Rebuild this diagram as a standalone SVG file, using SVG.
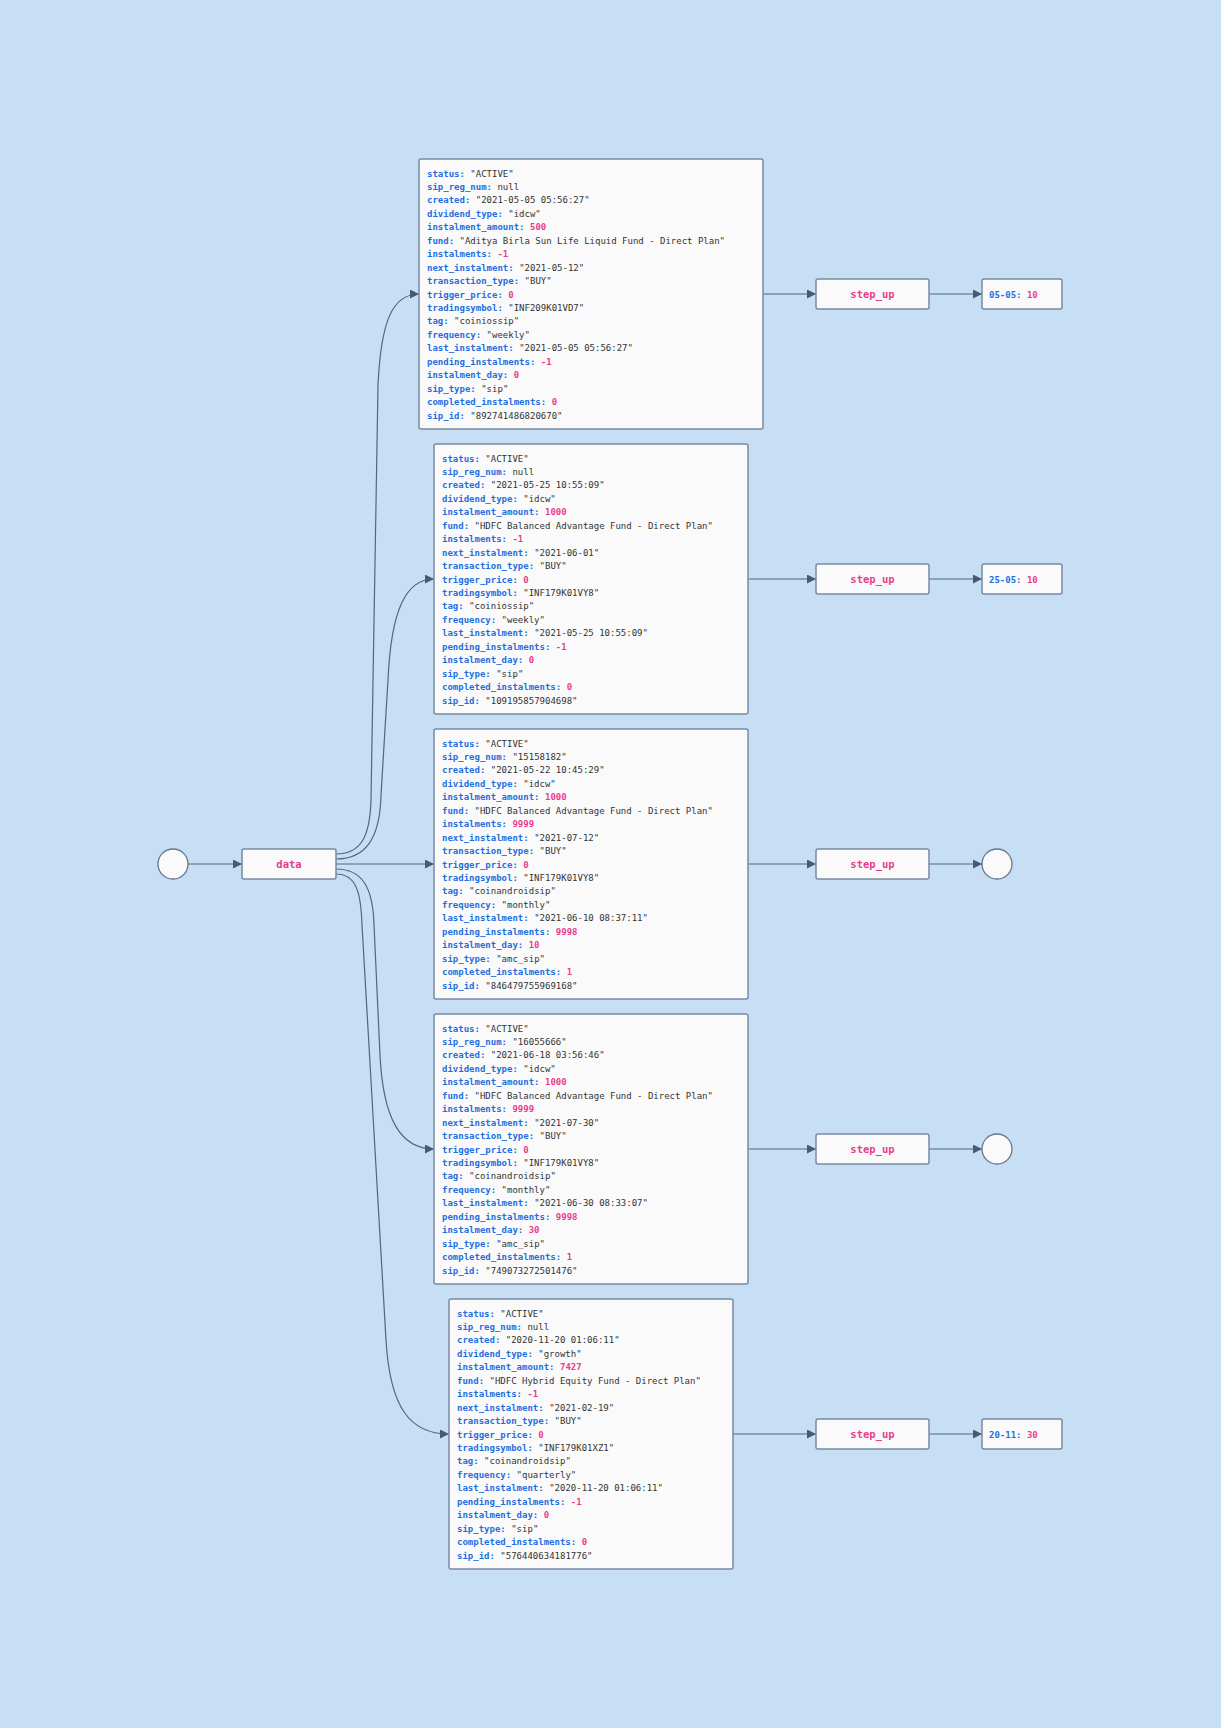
<svg xmlns="http://www.w3.org/2000/svg" width="1221" height="1728" viewBox="0 0 1221 1728">
<style>
.bg{fill:#c6dff4}
.nd{fill:#fafafa;stroke:#7b89a3;stroke-width:1.5}
.ci{fill:#fafafa;stroke:#66748f;stroke-width:1.3}
.e{fill:none;stroke:#55647f;stroke-width:1.2}
text{font-family:"DejaVu Sans Mono","Liberation Mono",monospace;font-size:9px;white-space:pre}
.k{fill:#1f6fe0;font-weight:bold}
.s{fill:#333333}
.n{fill:#ec3a8f;font-weight:bold}
.lbl{fill:#ec3a8f;font-size:10.5px;text-anchor:middle;font-weight:bold}
</style>
<defs>
<marker id="arr" viewBox="0 0 10 10" refX="10" refY="5" markerWidth="10" markerHeight="9" markerUnits="userSpaceOnUse" orient="auto">
<path d="M0,0 L10,5 L0,10 z" fill="#4a5874"/>
</marker>
</defs>
<rect class="bg" x="0" y="0" width="1221" height="1728"/>

<g id="connectors">
<path class="e" d="M188,864 L242,864" marker-end="url(#arr)"/>
<path class="e" d="M336,854 C360,854 370,838 371,800 L378,385 C381,322 392,294 419,294" marker-end="url(#arr)"/>
<path class="e" d="M336,859 C366,859 380,838 381,795 L388,680 C391,612 405,579 434,579" marker-end="url(#arr)"/>
<path class="e" d="M336,864 L434,864" marker-end="url(#arr)"/>
<path class="e" d="M336,869 C362,869 373,887 374,925 L380,1055 C383,1118 400,1149 434,1149" marker-end="url(#arr)"/>
<path class="e" d="M336,874 C356,874 361,892 362,925 L386,1340 C390,1408 410,1434 449,1434" marker-end="url(#arr)"/>
<path class="e" d="M763,294 L816,294" marker-end="url(#arr)"/>
<path class="e" d="M748,579 L816,579" marker-end="url(#arr)"/>
<path class="e" d="M748,864 L816,864" marker-end="url(#arr)"/>
<path class="e" d="M748,1149 L816,1149" marker-end="url(#arr)"/>
<path class="e" d="M733,1434 L816,1434" marker-end="url(#arr)"/>
<path class="e" d="M929,294 L982,294" marker-end="url(#arr)"/>
<path class="e" d="M929,579 L982,579" marker-end="url(#arr)"/>
<path class="e" d="M929,864 L982,864" marker-end="url(#arr)"/>
<path class="e" d="M929,1149 L982,1149" marker-end="url(#arr)"/>
<path class="e" d="M929,1434 L982,1434" marker-end="url(#arr)"/>
</g>

<g id="start"><circle class="ci" cx="173" cy="864" r="15"/></g>
<g id="data"><rect class="nd" x="242" y="849" width="94" height="30" rx="2"/><text class="lbl" x="289" y="868">data</text></g>

<g id="sip1" transform="translate(419,159)">
<rect class="nd" x="0" y="0" width="344" height="270" rx="2"/>
<text x="8" y="17.5"><tspan class="k">status:</tspan> <tspan class="s">"ACTIVE"</tspan></text>
<text x="8" y="30.95"><tspan class="k">sip_reg_num:</tspan> <tspan class="s">null</tspan></text>
<text x="8" y="44.4"><tspan class="k">created:</tspan> <tspan class="s">"2021-05-05 05:56:27"</tspan></text>
<text x="8" y="57.85"><tspan class="k">dividend_type:</tspan> <tspan class="s">"idcw"</tspan></text>
<text x="8" y="71.3"><tspan class="k">instalment_amount:</tspan> <tspan class="n">500</tspan></text>
<text x="8" y="84.75"><tspan class="k">fund:</tspan> <tspan class="s">"Aditya Birla Sun Life Liquid Fund - Direct Plan"</tspan></text>
<text x="8" y="98.2"><tspan class="k">instalments:</tspan> <tspan class="n">-1</tspan></text>
<text x="8" y="111.65"><tspan class="k">next_instalment:</tspan> <tspan class="s">"2021-05-12"</tspan></text>
<text x="8" y="125.1"><tspan class="k">transaction_type:</tspan> <tspan class="s">"BUY"</tspan></text>
<text x="8" y="138.55"><tspan class="k">trigger_price:</tspan> <tspan class="n">0</tspan></text>
<text x="8" y="152"><tspan class="k">tradingsymbol:</tspan> <tspan class="s">"INF209K01VD7"</tspan></text>
<text x="8" y="165.45"><tspan class="k">tag:</tspan> <tspan class="s">"coiniossip"</tspan></text>
<text x="8" y="178.9"><tspan class="k">frequency:</tspan> <tspan class="s">"weekly"</tspan></text>
<text x="8" y="192.35"><tspan class="k">last_instalment:</tspan> <tspan class="s">"2021-05-05 05:56:27"</tspan></text>
<text x="8" y="205.8"><tspan class="k">pending_instalments:</tspan> <tspan class="n">-1</tspan></text>
<text x="8" y="219.25"><tspan class="k">instalment_day:</tspan> <tspan class="n">0</tspan></text>
<text x="8" y="232.7"><tspan class="k">sip_type:</tspan> <tspan class="s">"sip"</tspan></text>
<text x="8" y="246.15"><tspan class="k">completed_instalments:</tspan> <tspan class="n">0</tspan></text>
<text x="8" y="259.6"><tspan class="k">sip_id:</tspan> <tspan class="s">"892741486820670"</tspan></text>
</g>

<g id="sip2" transform="translate(434,444)">
<rect class="nd" x="0" y="0" width="314" height="270" rx="2"/>
<text x="8" y="17.5"><tspan class="k">status:</tspan> <tspan class="s">"ACTIVE"</tspan></text>
<text x="8" y="30.95"><tspan class="k">sip_reg_num:</tspan> <tspan class="s">null</tspan></text>
<text x="8" y="44.4"><tspan class="k">created:</tspan> <tspan class="s">"2021-05-25 10:55:09"</tspan></text>
<text x="8" y="57.85"><tspan class="k">dividend_type:</tspan> <tspan class="s">"idcw"</tspan></text>
<text x="8" y="71.3"><tspan class="k">instalment_amount:</tspan> <tspan class="n">1000</tspan></text>
<text x="8" y="84.75"><tspan class="k">fund:</tspan> <tspan class="s">"HDFC Balanced Advantage Fund - Direct Plan"</tspan></text>
<text x="8" y="98.2"><tspan class="k">instalments:</tspan> <tspan class="n">-1</tspan></text>
<text x="8" y="111.65"><tspan class="k">next_instalment:</tspan> <tspan class="s">"2021-06-01"</tspan></text>
<text x="8" y="125.1"><tspan class="k">transaction_type:</tspan> <tspan class="s">"BUY"</tspan></text>
<text x="8" y="138.55"><tspan class="k">trigger_price:</tspan> <tspan class="n">0</tspan></text>
<text x="8" y="152"><tspan class="k">tradingsymbol:</tspan> <tspan class="s">"INF179K01VY8"</tspan></text>
<text x="8" y="165.45"><tspan class="k">tag:</tspan> <tspan class="s">"coiniossip"</tspan></text>
<text x="8" y="178.9"><tspan class="k">frequency:</tspan> <tspan class="s">"weekly"</tspan></text>
<text x="8" y="192.35"><tspan class="k">last_instalment:</tspan> <tspan class="s">"2021-05-25 10:55:09"</tspan></text>
<text x="8" y="205.8"><tspan class="k">pending_instalments:</tspan> <tspan class="n">-1</tspan></text>
<text x="8" y="219.25"><tspan class="k">instalment_day:</tspan> <tspan class="n">0</tspan></text>
<text x="8" y="232.7"><tspan class="k">sip_type:</tspan> <tspan class="s">"sip"</tspan></text>
<text x="8" y="246.15"><tspan class="k">completed_instalments:</tspan> <tspan class="n">0</tspan></text>
<text x="8" y="259.6"><tspan class="k">sip_id:</tspan> <tspan class="s">"109195857904698"</tspan></text>
</g>

<g id="sip3" transform="translate(434,729)">
<rect class="nd" x="0" y="0" width="314" height="270" rx="2"/>
<text x="8" y="17.5"><tspan class="k">status:</tspan> <tspan class="s">"ACTIVE"</tspan></text>
<text x="8" y="30.95"><tspan class="k">sip_reg_num:</tspan> <tspan class="s">"15158182"</tspan></text>
<text x="8" y="44.4"><tspan class="k">created:</tspan> <tspan class="s">"2021-05-22 10:45:29"</tspan></text>
<text x="8" y="57.85"><tspan class="k">dividend_type:</tspan> <tspan class="s">"idcw"</tspan></text>
<text x="8" y="71.3"><tspan class="k">instalment_amount:</tspan> <tspan class="n">1000</tspan></text>
<text x="8" y="84.75"><tspan class="k">fund:</tspan> <tspan class="s">"HDFC Balanced Advantage Fund - Direct Plan"</tspan></text>
<text x="8" y="98.2"><tspan class="k">instalments:</tspan> <tspan class="n">9999</tspan></text>
<text x="8" y="111.65"><tspan class="k">next_instalment:</tspan> <tspan class="s">"2021-07-12"</tspan></text>
<text x="8" y="125.1"><tspan class="k">transaction_type:</tspan> <tspan class="s">"BUY"</tspan></text>
<text x="8" y="138.55"><tspan class="k">trigger_price:</tspan> <tspan class="n">0</tspan></text>
<text x="8" y="152"><tspan class="k">tradingsymbol:</tspan> <tspan class="s">"INF179K01VY8"</tspan></text>
<text x="8" y="165.45"><tspan class="k">tag:</tspan> <tspan class="s">"coinandroidsip"</tspan></text>
<text x="8" y="178.9"><tspan class="k">frequency:</tspan> <tspan class="s">"monthly"</tspan></text>
<text x="8" y="192.35"><tspan class="k">last_instalment:</tspan> <tspan class="s">"2021-06-10 08:37:11"</tspan></text>
<text x="8" y="205.8"><tspan class="k">pending_instalments:</tspan> <tspan class="n">9998</tspan></text>
<text x="8" y="219.25"><tspan class="k">instalment_day:</tspan> <tspan class="n">10</tspan></text>
<text x="8" y="232.7"><tspan class="k">sip_type:</tspan> <tspan class="s">"amc_sip"</tspan></text>
<text x="8" y="246.15"><tspan class="k">completed_instalments:</tspan> <tspan class="n">1</tspan></text>
<text x="8" y="259.6"><tspan class="k">sip_id:</tspan> <tspan class="s">"846479755969168"</tspan></text>
</g>

<g id="sip4" transform="translate(434,1014)">
<rect class="nd" x="0" y="0" width="314" height="270" rx="2"/>
<text x="8" y="17.5"><tspan class="k">status:</tspan> <tspan class="s">"ACTIVE"</tspan></text>
<text x="8" y="30.95"><tspan class="k">sip_reg_num:</tspan> <tspan class="s">"16055666"</tspan></text>
<text x="8" y="44.4"><tspan class="k">created:</tspan> <tspan class="s">"2021-06-18 03:56:46"</tspan></text>
<text x="8" y="57.85"><tspan class="k">dividend_type:</tspan> <tspan class="s">"idcw"</tspan></text>
<text x="8" y="71.3"><tspan class="k">instalment_amount:</tspan> <tspan class="n">1000</tspan></text>
<text x="8" y="84.75"><tspan class="k">fund:</tspan> <tspan class="s">"HDFC Balanced Advantage Fund - Direct Plan"</tspan></text>
<text x="8" y="98.2"><tspan class="k">instalments:</tspan> <tspan class="n">9999</tspan></text>
<text x="8" y="111.65"><tspan class="k">next_instalment:</tspan> <tspan class="s">"2021-07-30"</tspan></text>
<text x="8" y="125.1"><tspan class="k">transaction_type:</tspan> <tspan class="s">"BUY"</tspan></text>
<text x="8" y="138.55"><tspan class="k">trigger_price:</tspan> <tspan class="n">0</tspan></text>
<text x="8" y="152"><tspan class="k">tradingsymbol:</tspan> <tspan class="s">"INF179K01VY8"</tspan></text>
<text x="8" y="165.45"><tspan class="k">tag:</tspan> <tspan class="s">"coinandroidsip"</tspan></text>
<text x="8" y="178.9"><tspan class="k">frequency:</tspan> <tspan class="s">"monthly"</tspan></text>
<text x="8" y="192.35"><tspan class="k">last_instalment:</tspan> <tspan class="s">"2021-06-30 08:33:07"</tspan></text>
<text x="8" y="205.8"><tspan class="k">pending_instalments:</tspan> <tspan class="n">9998</tspan></text>
<text x="8" y="219.25"><tspan class="k">instalment_day:</tspan> <tspan class="n">30</tspan></text>
<text x="8" y="232.7"><tspan class="k">sip_type:</tspan> <tspan class="s">"amc_sip"</tspan></text>
<text x="8" y="246.15"><tspan class="k">completed_instalments:</tspan> <tspan class="n">1</tspan></text>
<text x="8" y="259.6"><tspan class="k">sip_id:</tspan> <tspan class="s">"749073272501476"</tspan></text>
</g>

<g id="sip5" transform="translate(449,1299)">
<rect class="nd" x="0" y="0" width="284" height="270" rx="2"/>
<text x="8" y="17.5"><tspan class="k">status:</tspan> <tspan class="s">"ACTIVE"</tspan></text>
<text x="8" y="30.95"><tspan class="k">sip_reg_num:</tspan> <tspan class="s">null</tspan></text>
<text x="8" y="44.4"><tspan class="k">created:</tspan> <tspan class="s">"2020-11-20 01:06:11"</tspan></text>
<text x="8" y="57.85"><tspan class="k">dividend_type:</tspan> <tspan class="s">"growth"</tspan></text>
<text x="8" y="71.3"><tspan class="k">instalment_amount:</tspan> <tspan class="n">7427</tspan></text>
<text x="8" y="84.75"><tspan class="k">fund:</tspan> <tspan class="s">"HDFC Hybrid Equity Fund - Direct Plan"</tspan></text>
<text x="8" y="98.2"><tspan class="k">instalments:</tspan> <tspan class="n">-1</tspan></text>
<text x="8" y="111.65"><tspan class="k">next_instalment:</tspan> <tspan class="s">"2021-02-19"</tspan></text>
<text x="8" y="125.1"><tspan class="k">transaction_type:</tspan> <tspan class="s">"BUY"</tspan></text>
<text x="8" y="138.55"><tspan class="k">trigger_price:</tspan> <tspan class="n">0</tspan></text>
<text x="8" y="152"><tspan class="k">tradingsymbol:</tspan> <tspan class="s">"INF179K01XZ1"</tspan></text>
<text x="8" y="165.45"><tspan class="k">tag:</tspan> <tspan class="s">"coinandroidsip"</tspan></text>
<text x="8" y="178.9"><tspan class="k">frequency:</tspan> <tspan class="s">"quarterly"</tspan></text>
<text x="8" y="192.35"><tspan class="k">last_instalment:</tspan> <tspan class="s">"2020-11-20 01:06:11"</tspan></text>
<text x="8" y="205.8"><tspan class="k">pending_instalments:</tspan> <tspan class="n">-1</tspan></text>
<text x="8" y="219.25"><tspan class="k">instalment_day:</tspan> <tspan class="n">0</tspan></text>
<text x="8" y="232.7"><tspan class="k">sip_type:</tspan> <tspan class="s">"sip"</tspan></text>
<text x="8" y="246.15"><tspan class="k">completed_instalments:</tspan> <tspan class="n">0</tspan></text>
<text x="8" y="259.6"><tspan class="k">sip_id:</tspan> <tspan class="s">"576440634181776"</tspan></text>
</g>

<g id="step1"><rect class="nd" x="816" y="279" width="113" height="30" rx="2"/><text class="lbl" x="872.5" y="298">step_up</text></g>
<g id="step2"><rect class="nd" x="816" y="564" width="113" height="30" rx="2"/><text class="lbl" x="872.5" y="583">step_up</text></g>
<g id="step3"><rect class="nd" x="816" y="849" width="113" height="30" rx="2"/><text class="lbl" x="872.5" y="868">step_up</text></g>
<g id="step4"><rect class="nd" x="816" y="1134" width="113" height="30" rx="2"/><text class="lbl" x="872.5" y="1153">step_up</text></g>
<g id="step5"><rect class="nd" x="816" y="1419" width="113" height="30" rx="2"/><text class="lbl" x="872.5" y="1438">step_up</text></g>

<g id="out1"><rect class="nd" x="982" y="279" width="80" height="30" rx="2"/><text x="989" y="297.5"><tspan class="k">05-05:</tspan> <tspan class="n">10</tspan></text></g>
<g id="out2"><rect class="nd" x="982" y="564" width="80" height="30" rx="2"/><text x="989" y="582.5"><tspan class="k">25-05:</tspan> <tspan class="n">10</tspan></text></g>
<g id="end3"><circle class="ci" cx="997" cy="864" r="15"/></g>
<g id="end4"><circle class="ci" cx="997" cy="1149" r="15"/></g>
<g id="out5"><rect class="nd" x="982" y="1419" width="80" height="30" rx="2"/><text x="989" y="1437.5"><tspan class="k">20-11:</tspan> <tspan class="n">30</tspan></text></g>
</svg>
